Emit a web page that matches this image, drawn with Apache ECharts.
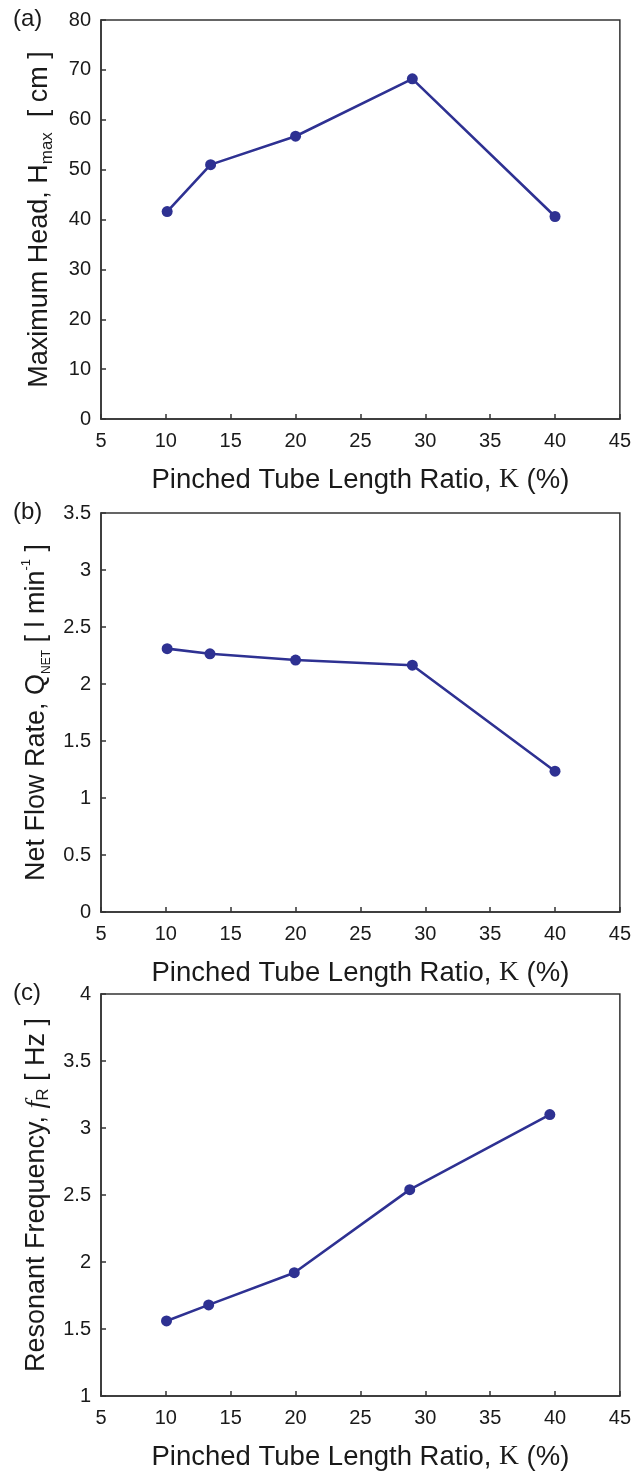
<!DOCTYPE html>
<html><head><meta charset="utf-8">
<script src="https://cdn.jsdelivr.net/npm/echarts@6/dist/echarts.min.js"></script>
<style>html,body{margin:0;padding:0;background:#fff}#c{width:634px;height:1472px}</style>
</head><body><div id="c"></div>
<script>
// ---- data ----
const xTicks = [5, 10, 15, 20, 25, 30, 35, 40, 45];
const yTicksA = [0, 10, 20, 30, 40, 50, 60, 70, 80];
const yTicksB = [0, 0.5, 1, 1.5, 2, 2.5, 3, 3.5];
const yTicksC = [1, 1.5, 2, 2.5, 3, 3.5, 4];

const kA = [10.1, 13.45, 20.0, 29.0, 40.0];
const headA = [41.6, 51.0, 56.7, 68.2, 40.6];
const kB = [10.1, 13.4, 20.0, 29.0, 40.0];
const flowB = [2.31, 2.265, 2.21, 2.165, 1.235];
const kC = [10.05, 13.3, 19.9, 28.8, 39.6];
const freqC = [1.56, 1.68, 1.92, 2.54, 3.10];

const panelLabels = ['(a)', '(b)', '(c)'];
const xName = '{t|Pinched Tube Length Ratio, }{k|K}{t| (%)}';
const yNames = [
  '{t|Maximum Head, H}{s|max}{t|  [ cm ]}',
  '{t|Net Flow Rate, Q}{n|NET}{t| [ l min}{p|-1}{t| ]}',
  '{t|Resonant Frequency, }{i|f}{s|R}{t| [ Hz ]}'
];

// ---- styling ----
const FF = '"Liberation Sans", Arial, Helvetica, sans-serif';
const SERIF = '"Liberation Serif", "Times New Roman", serif';
const TXT = '#1a1a1a';
const AX = '#333333';
const LINE = '#2e3192';

const richY = {
  t: {fontSize: 27, fontFamily: FF, color: TXT, lineHeight: 32},
  s: {fontSize: 17, fontFamily: FF, color: TXT, lineHeight: 15, verticalAlign: 'bottom'},
  n: {fontSize: 12, fontFamily: FF, color: TXT, lineHeight: 13, verticalAlign: 'bottom'},
  p: {fontSize: 13, fontFamily: FF, color: TXT, lineHeight: 13, verticalAlign: 'top'},
  i: {fontSize: 28, fontFamily: SERIF, fontStyle: 'italic', color: TXT, lineHeight: 32}
};
const richX = {
  t: {fontSize: 27.5, fontFamily: FF, color: TXT, lineHeight: 32},
  k: {fontSize: 27.5, fontFamily: SERIF, color: TXT, lineHeight: 32}
};

const grids = [
  {left: 101, top: 20, width: 521, height: 399},
  {left: 101, top: 513, width: 521, height: 399},
  {left: 101, top: 994, width: 521, height: 407}
];
const yTickSets = [yTicksA, yTicksB, yTicksC];
const xs = [kA, kB, kC];
const ys = [headA, flowB, freqC];

const option = {
  animation: false,
  backgroundColor: '#fff',
  grid: grids.map(g => Object.assign({show: true, borderColor: AX, borderWidth: 1.5, backgroundColor: 'transparent'}, g)),
  xAxis: grids.map((g, i) => ({
    type: 'value', gridIndex: i,
    min: xTicks[0], max: xTicks[xTicks.length - 1], interval: xTicks[1] - xTicks[0],
    name: xName, nameLocation: 'middle', nameGap: 45,
    nameTextStyle: {rich: richX},
    axisLine: {show: true, onZero: false, lineStyle: {color: AX, width: 1.5}},
    axisTick: {show: true, inside: true, length: 5, lineStyle: {color: AX, width: 1.5}},
    axisLabel: {fontSize: 20, fontFamily: FF, color: TXT, margin: 12},
    splitLine: {show: false}
  })),
  yAxis: grids.map((g, i) => {
    const t = yTickSets[i];
    return {
      type: 'value', gridIndex: i,
      min: t[0], max: t[t.length - 1], interval: t[1] - t[0],
      name: yNames[i], nameLocation: 'middle', nameRotate: 90, nameGap: 45,
      nameTextStyle: {rich: richY},
      axisLine: {show: true, onZero: false, lineStyle: {color: AX, width: 1.5}},
      axisTick: {show: true, inside: true, length: 5, lineStyle: {color: AX, width: 1.5}},
      axisLabel: {fontSize: 20, fontFamily: FF, color: TXT, margin: 10},
      splitLine: {show: false}
    };
  }),
  series: grids.map((g, i) => ({
    type: 'line', xAxisIndex: i, yAxisIndex: i,
    data: xs[i].map((x, j) => [x, ys[i][j]]),
    symbol: 'circle', symbolSize: 11,
    lineStyle: {color: LINE, width: 2.6},
    itemStyle: {color: LINE},
    z: 5
  })),
  graphic: grids.map((g, i) => ({
    type: 'text', left: 13, top: g.top - 13,
    style: {text: panelLabels[i], fontSize: 24, fontFamily: FF, fill: TXT}
  }))
};

const chart = echarts.init(document.getElementById('c'), null, {renderer: 'canvas'});
chart.setOption(option);
</script>
</body></html>
